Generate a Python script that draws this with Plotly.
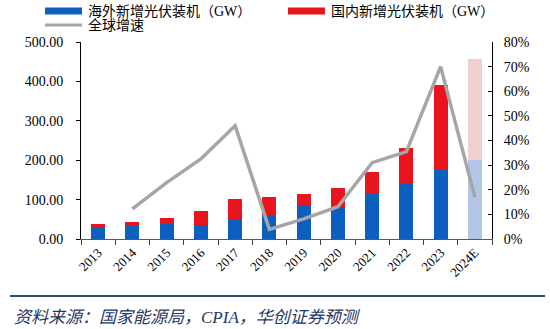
import plotly.graph_objects as go

years = ["2013", "2014", "2015", "2016", "2017", "2018", "2019", "2020", "2021", "2022", "2023", "2024E"]
overseas = [27, 32, 38, 35, 49, 62, 85, 82, 115, 143, 175, 200]
domestic = [11, 11, 15, 35, 53, 44, 30, 48, 55, 88, 217, 256]
growth = [None, 12.2, 22.9, 32.5, 46.0, 3.9, 8.2, 13.1, 31.0, 35.5, 70.0, 17.0]
y_ticks = [0, 100, 200, 300, 400, 500]
y2_ticks = [0, 10, 20, 30, 40, 50, 60, 70, 80]

BLUE = "#0B5FBE"
RED = "#E8141E"
BLUE_E = "#B3C6E7"
RED_E = "#F0CFCF"
GRAY = "#A6A6A6"

W, H = 550, 329
L, R, T, B = 81, 492, 42, 239


def px(x):
    return (x - L) / (R - L)


def py(y):
    return (B - y) / (B - T)


fig = go.Figure()
fig.add_trace(go.Bar(
    x=years, y=overseas, name="海外新增光伏装机（GW）",
    marker=dict(color=[BLUE] * (len(years) - 1) + [BLUE_E], line=dict(width=0)),
))
fig.add_trace(go.Bar(
    x=years, y=domestic, name="国内新增光伏装机（GW）",
    marker=dict(color=[RED] * (len(years) - 1) + [RED_E], line=dict(width=0)),
))
fig.add_trace(go.Scatter(
    x=years, y=growth, name="全球增速", yaxis="y2", mode="lines",
    line=dict(color=GRAY, width=3.5), connectgaps=False,
))

font_main = "Liberation Serif, Noto Sans CJK SC, serif"

shapes = []
annotations = []

# custom legend
legend_items = [
    (45, 11, "bar", BLUE, "海外新增光伏装机（GW）"),
    (288, 11, "bar", RED, "国内新增光伏装机（GW）"),
    (45, 25, "line", GRAY, "全球增速"),
]
for x0, yc, kind, col, label in legend_items:
    if kind == "bar":
        shapes.append(dict(type="rect", xref="paper", yref="paper",
                           x0=px(x0), x1=px(x0 + 37), y0=py(yc + 3.5), y1=py(yc - 3.5),
                           fillcolor=col, line=dict(width=0)))
    else:
        shapes.append(dict(type="line", xref="paper", yref="paper",
                           x0=px(x0), x1=px(x0 + 37), y0=py(yc), y1=py(yc),
                           line=dict(color=col, width=3)))
    annotations.append(dict(xref="paper", yref="paper", x=px(x0 + 41), y=py(yc),
                            xanchor="left", yanchor="middle", text=label, showarrow=False,
                            font=dict(family=font_main, size=14, color="#000000")))

# bottom source line and text
shapes.append(dict(type="line", xref="paper", yref="paper",
                   x0=px(10), x1=px(545), y0=py(296), y1=py(296),
                   line=dict(color="#1F4E79", width=2)))
annotations.append(dict(xref="paper", yref="paper", x=px(12), y=py(317),
                        xanchor="left", yanchor="middle",
                        text="<i>资料来源：国家能源局，CPIA，华创证券预测</i>", showarrow=False,
                        font=dict(family=font_main, size=17, color="#1F3864")))

fig.update_layout(
    width=W, height=H,
    margin=dict(l=L, r=W - R, t=T, b=H - B, pad=0),
    barmode="stack", bargap=0.59,
    plot_bgcolor="white", paper_bgcolor="white",
    showlegend=False,
    font=dict(family=font_main, size=14, color="#000000"),
    xaxis=dict(
        type="category", tickangle=-45, tickson="boundaries",
        ticks="outside", ticklen=5, tickcolor="#404040",
        showline=True, linecolor="#595959", linewidth=1,
        showgrid=False, tickfont=dict(size=13),
    ),
    yaxis=dict(
        range=[0, 500], tickvals=y_ticks,
        ticktext=[f"{v:.2f}" for v in y_ticks],
        ticks="outside", ticklen=4, tickcolor="#000000",
        showline=True, linecolor="#000000", linewidth=1,
        showgrid=False, zeroline=False, ticklabelstandoff=10,
    ),
    yaxis2=dict(
        range=[0, 80], tickvals=y2_ticks,
        ticktext=[f"{v}%" for v in y2_ticks],
        overlaying="y", side="right",
        ticks="inside", ticklen=4, tickcolor="#000000",
        showline=True, linecolor="#000000", linewidth=1,
        showgrid=False, zeroline=False, ticklabelstandoff=8,
    ),
    shapes=shapes,
    annotations=annotations,
)

fig.write_html("out.html")
